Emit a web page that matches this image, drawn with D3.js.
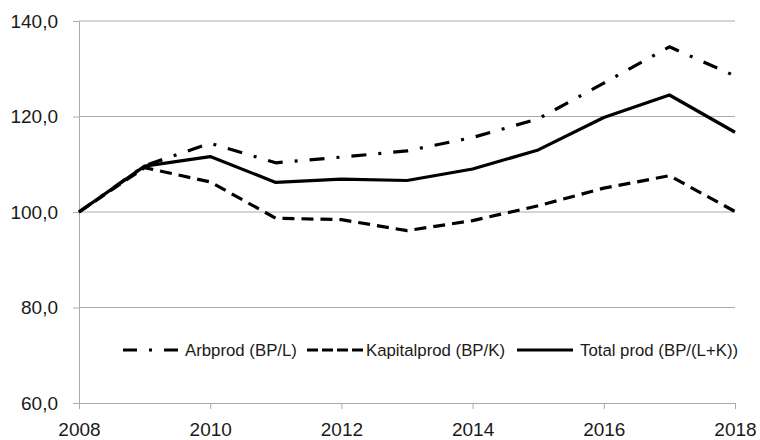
<!DOCTYPE html>
<html>
<head>
<meta charset="utf-8">
<script src="https://cdn.jsdelivr.net/npm/d3@7"></script>
<style>
  html, body { margin: 0; padding: 0; background: #fff; }
  svg { display: block; }
  text { font-family: "Liberation Sans", Arial, sans-serif; fill: #1a1a1a; }
</style>
</head>
<body>
<svg id="chart" width="760" height="440"></svg>
<script>
const years = [2008, 2009, 2010, 2011, 2012, 2013, 2014, 2015, 2016, 2017, 2018];
const arbprod = [100.0, 109.7, 114.4, 110.3, 111.5, 112.8, 115.6, 119.5, 127.0, 134.6, 128.5];
const kapitalprod = [100.0, 109.3, 106.3, 98.7, 98.4, 96.1, 98.2, 101.3, 105.0, 107.6, 100.1];
const totalprod = [100.0, 109.6, 111.6, 106.2, 106.9, 106.6, 109.0, 113.0, 119.8, 124.5, 116.7];
const yTicks = [60, 80, 100, 120, 140];
const xTicks = [2008, 2010, 2012, 2014, 2016, 2018];
const seriesNames = ["Arbprod (BP/L)", "Kapitalprod (BP/K)", "Total prod (BP/(L+K))"];

const svg = d3.select("#chart");
const mLeft = 79, mRight = 735, mTop = 21, mBottom = 403;

const x = d3.scaleLinear().domain([2008, 2018]).range([mLeft, mRight]);
const y = d3.scaleLinear().domain([60, 140]).range([mBottom, mTop]);

const grid = "#ababab";
const font = "'Liberation Sans', Arial, sans-serif";

// gridlines
svg.append("g").selectAll("line").data(yTicks.filter(d => d > 60)).join("line")
  .attr("x1", mLeft).attr("x2", mRight)
  .attr("y1", d => y(d)).attr("y2", d => y(d))
  .attr("stroke", grid).attr("stroke-width", 1);

// y axis
const yAxis = svg.append("g").attr("transform", `translate(${mLeft},0)`)
  .call(d3.axisLeft(y).tickValues(yTicks).tickSize(6).tickPadding(15)
    .tickFormat(d => d3.format(".1f")(d).replace(".", ",")));
yAxis.select(".domain").attr("stroke", grid);
yAxis.selectAll(".tick line").attr("stroke", grid);
yAxis.selectAll("text").attr("font-size", 19).attr("fill", "#1a1a1a").style("font-family", font);

// x axis
const xAxis = svg.append("g").attr("transform", `translate(0,${mBottom})`)
  .call(d3.axisBottom(x).tickValues(xTicks).tickSize(6).tickPadding(14).tickFormat(d3.format("d")).tickSizeOuter(0));
xAxis.select(".domain").attr("stroke", grid);
xAxis.selectAll(".tick line").attr("stroke", grid);
xAxis.selectAll("text").attr("font-size", 19).attr("fill", "#1a1a1a").style("font-family", font);

const styles = [
  { data: arbprod, dash: "15,12,3,12" },
  { data: kapitalprod, dash: "12,7" },
  { data: totalprod, dash: null }
];

const line = d3.line().x((d, i) => x(years[i])).y(d => y(d));

styles.forEach(s => {
  svg.append("path").datum(s.data)
    .attr("d", line)
    .attr("fill", "none")
    .attr("stroke", "#000")
    .attr("stroke-width", 3.2)
    .attr("stroke-linejoin", "round")
    .attr("stroke-dasharray", s.dash);
});

// legend
const legendY = 350;
const legendItems = [
  { x0: 123, x1: 181, tx: 185 },
  { x0: 307, x1: 363, tx: 366 },
  { x0: 517, x1: 573, tx: 580 }
];
const lg = svg.append("g");
legendItems.forEach((it, i) => {
  lg.append("line")
    .attr("x1", it.x0).attr("x2", it.x1)
    .attr("y1", legendY).attr("y2", legendY)
    .attr("stroke", "#000").attr("stroke-width", 3.2)
    .attr("stroke-dasharray", i === 0 ? "14,12,3,12" : (i === 1 ? "11,4" : null));
  lg.append("text")
    .attr("x", it.tx).attr("y", legendY + 6)
    .attr("font-size", 16.8)
    .text(seriesNames[i]);
});
</script>
</body>
</html>
